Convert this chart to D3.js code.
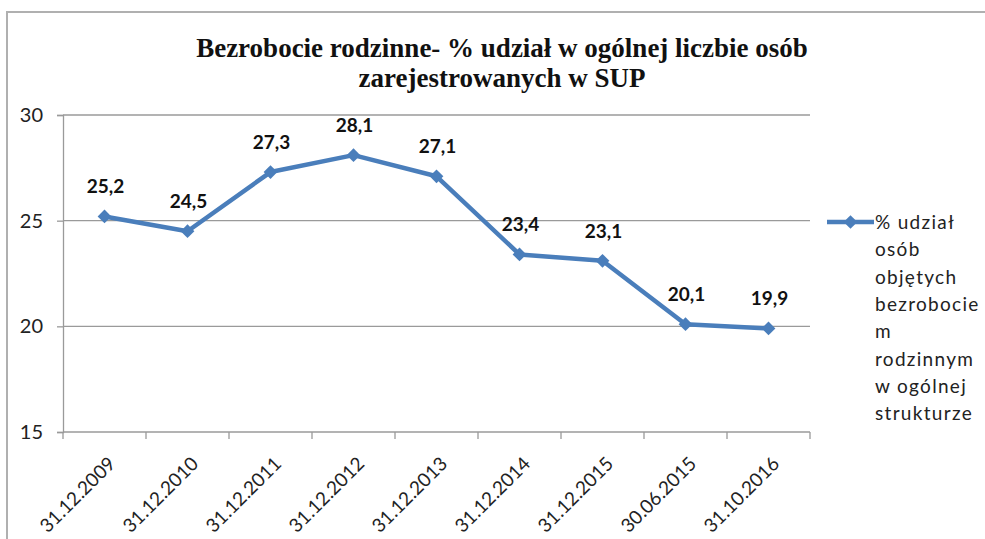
<!DOCTYPE html>
<html>
<head>
<meta charset="utf-8">
<script src="https://cdn.jsdelivr.net/npm/d3@7"></script>
<style>
  body { margin: 0; background: #fff; }
  svg { display: block; }
</style>
</head>
<body>
<div id="chart"></div>
<script>
const categories = ["31.12.2009", "31.12.2010", "31.12.2011", "31.12.2012", "31.12.2013", "31.12.2014", "31.12.2015", "30.06.2015", "31.10.2016"]
const values = [25.2, 24.5, 27.3, 28.1, 27.1, 23.4, 23.1, 20.1, 19.9]
const yTicks = [15, 20, 25, 30]
const titleLines = ["Bezrobocie rodzinne- % udział w ogólnej liczbie osób", "zarejestrowanych w SUP"]
const legendLines = ["% udział", "osób", "objętych", "bezrobocie", "m", "rodzinnym", "w ogólnej", "strukturze"]

const width = 985, height = 539
const plot = { left: 63, right: 810, top: 115, bottom: 432 }
const blue = "#4a7ebb"
const sans = "Lato, 'Open Sans', sans-serif"

const svg = d3.select("#chart").append("svg")
  .attr("width", width)
  .attr("height", height)

// chart frame
svg.append("path")
  .attr("d", `M7,${height} V12 H${width}`)
  .attr("fill", "none")
  .attr("stroke", "#b0b0b0")
  .attr("stroke-width", 2)

svg.append("g")
  .selectAll("text")
  .data(titleLines)
  .join("text")
  .attr("x", 502)
  .attr("y", (d, i) => 57 + i * 30)
  .attr("text-anchor", "middle")
  .attr("font-family", "'Liberation Serif', 'Times New Roman', serif")
  .attr("font-weight", "bold")
  .attr("font-size", 27)
  .attr("fill", "#111")
  .text(d => d)

const x = d3.scaleBand().domain(categories).range([plot.left, plot.right])
const y = d3.scaleLinear().domain([15, 30]).range([plot.bottom, plot.top])

// gridlines
svg.append("g")
  .selectAll("line")
  .data(yTicks.filter(t => t > 15))
  .join("line")
  .attr("x1", plot.left).attr("x2", plot.right)
  .attr("y1", d => y(d)).attr("y2", d => y(d))
  .attr("stroke", "#9a9a9a")
  .attr("stroke-width", 1.3)

// y axis
const yAxis = svg.append("g")
  .attr("transform", `translate(${plot.left},0)`)
  .call(d3.axisLeft(y).tickValues(yTicks).tickSize(6).tickPadding(14))
yAxis.select(".domain").attr("stroke", "#9a9a9a").attr("stroke-width", 1.3)
yAxis.selectAll(".tick line").attr("stroke", "#9a9a9a").attr("stroke-width", 1.3)
yAxis.selectAll("text")
  .attr("font-family", sans)
  .attr("font-size", 20)
  .attr("fill", "#222")

// x axis, ticks on band boundaries
const xAxis = svg.append("g")
  .attr("transform", `translate(0,${plot.bottom})`)
xAxis.append("line")
  .attr("x1", plot.left).attr("x2", plot.right)
  .attr("stroke", "#9a9a9a").attr("stroke-width", 1.3)
const bounds = categories.map(c => x(c)).concat([x(categories[categories.length - 1]) + x.bandwidth()])
xAxis.selectAll("line.tick")
  .data(bounds)
  .join("line")
  .attr("class", "tick")
  .attr("x1", d => d).attr("x2", d => d)
  .attr("y1", 0).attr("y2", 7)
  .attr("stroke", "#9a9a9a").attr("stroke-width", 1.3)
xAxis.selectAll("text")
  .data(categories)
  .join("text")
  .attr("transform", d => `translate(${x(d) + x.bandwidth() / 2 + 12},${33}) rotate(-45)`)
  .attr("text-anchor", "end")
  .attr("font-family", sans)
  .attr("font-size", 19)
  .attr("fill", "#222")
  .text(d => d)

const cx = (d, i) => x(categories[i]) + x.bandwidth() / 2

// series line
svg.append("path")
  .datum(values)
  .attr("d", d3.line().x(cx).y(d => y(d)))
  .attr("fill", "none")
  .attr("stroke", blue)
  .attr("stroke-width", 4.5)
  .attr("stroke-linejoin", "round")

const diamond = d3.symbol().type(d3.symbolDiamond2).size(120)
svg.append("g")
  .selectAll("path")
  .data(values)
  .join("path")
  .attr("transform", (d, i) => `translate(${cx(d, i)},${y(d)})`)
  .attr("d", diamond)
  .attr("fill", blue)

svg.append("g")
  .selectAll("text")
  .data(values)
  .join("text")
  .attr("x", (d, i) => cx(d, i) + 1)
  .attr("y", d => y(d) - 23)
  .attr("text-anchor", "middle")
  .attr("font-family", sans)
  .attr("font-weight", "bold")
  .attr("font-size", 19)
  .attr("fill", "#111")
  .text(d => d.toString().replace(".", ","))

// legend
const legend = svg.append("g").attr("transform", "translate(827,222)")
legend.append("line")
  .attr("x1", 0).attr("x2", 47)
  .attr("stroke", blue).attr("stroke-width", 4.5)
legend.append("path")
  .attr("transform", "translate(23.5,0)")
  .attr("d", diamond)
  .attr("fill", blue)
legend.selectAll("text")
  .data(legendLines)
  .join("text")
  .attr("x", 48)
  .attr("y", (d, i) => 7 + i * 27.3)
  .attr("font-family", sans)
  .attr("font-size", 19)
  .attr("letter-spacing", 1.3)
  .attr("fill", "#222")
  .text(d => d)
</script>
</body>
</html>
